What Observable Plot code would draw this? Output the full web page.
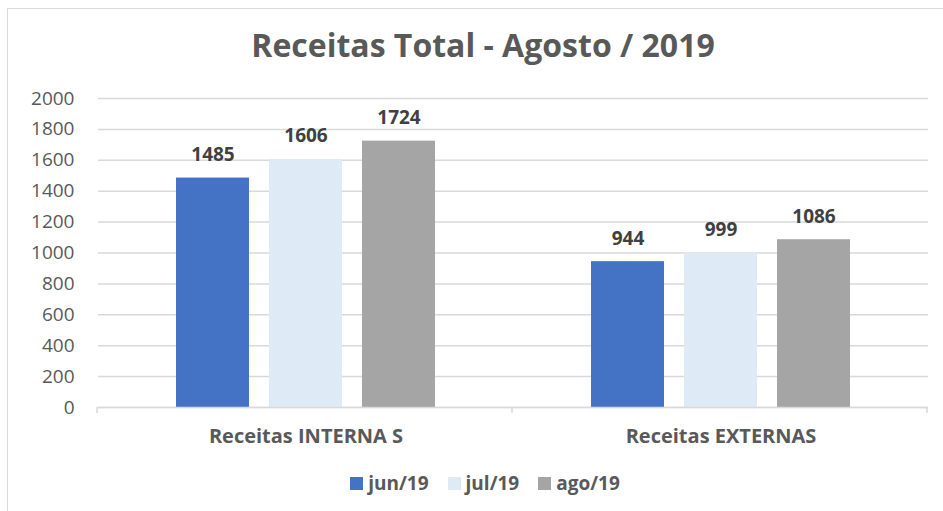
<!DOCTYPE html>
<html>
<head>
<meta charset="utf-8">
<script src="https://cdn.jsdelivr.net/npm/d3@7"></script>
<script src="https://cdn.jsdelivr.net/npm/@observablehq/plot@0.6"></script>
<style>
  html, body { margin: 0; padding: 0; background: #fff; }
  #wrap { position: relative; width: 943px; height: 511px; overflow: hidden; font-family: "Open Sans", "Noto Sans", sans-serif; }
  #frame { position: absolute; left: 7px; top: 8px; width: 950px; height: 520px; border: 1.5px solid #d9d9d9; box-sizing: border-box; }
  #title { position: absolute; left: 0; width: 966px; top: 23px; text-align: center; font-size: 32px; font-weight: 700; color: #595959; }
  #chart { position: absolute; left: 0; top: 70px; }
  #legend { position: absolute; left: 0; width: 970px; top: 470px; display: flex; justify-content: center; gap: 19px; font-size: 19px; font-weight: 700; color: #595959; }
  #legend .item { display: flex; align-items: center; gap: 5px; }
  #legend .sw { width: 13px; height: 13px; display: inline-block; }
</style>
</head>
<body>
<div id="wrap">
  <div id="frame"></div>
  <div id="title">Receitas Total - Agosto / 2019</div>
  <div id="chart"></div>
  <div id="legend"></div>
</div>
<script>
const categories = ["Receitas INTERNA S", "Receitas EXTERNAS"];
const months = ["jun/19", "jul/19", "ago/19"];
const colors = ["#4472c4", "#deebf7", "#a5a5a5"];
const internas = [1485, 1606, 1724];
const externas = [944, 999, 1086];
const yTicks = [0, 200, 400, 600, 800, 1000, 1200, 1400, 1600, 1800, 2000];

const seriesByCategory = [internas, externas];
const data = [];
categories.forEach((c, ci) => months.forEach((m, mi) => data.push({category: c, month: m, value: seriesByCategory[ci][mi]})));

const chart = Plot.plot({
  width: 943,
  height: 380,
  marginLeft: 97,
  marginRight: 15,
  marginTop: 28,
  marginBottom: 43,
  style: {fontFamily: "'Open Sans', 'Noto Sans', sans-serif", background: "transparent", overflow: "visible"},
  fx: {domain: categories, padding: 0, label: null},
  x: {domain: months, paddingInner: 0.22, paddingOuter: 0.84, axis: null},
  y: {domain: [0, 2000], label: null},
  color: {domain: months, range: colors},
  marks: [
    Plot.gridY(yTicks, {stroke: "#d9d9d9", strokeOpacity: 1, strokeWidth: 1.5}),
    Plot.axisY(yTicks, {tickSize: 0, tickPadding: 24, fontSize: 19, fill: "#595959", label: null, tickFormat: d => String(d)}),
    Plot.axisFx({anchor: "bottom", tickSize: 0, tickPadding: 21, fontSize: 20, fontWeight: 700, fill: "#595959", label: null}),
    Plot.barY(data, {fx: "category", x: "month", y: "value", fill: "month"}),
    Plot.ruleY([0], {stroke: "#d9d9d9", strokeWidth: 1.5}),
    Plot.text(data, {fx: "category", x: "month", y: "value", text: d => String(d.value), lineAnchor: "bottom", dy: -17, fontSize: 19, fontWeight: 700, fill: "#404040"})
  ]
});

// boundary ticks on the category axis, derived from the fx and y scales
const fxs = chart.scale("fx");
const ys = chart.scale("y");
const svg = d3.select(chart.tagName === "svg" ? chart : chart.querySelector("svg"));
const y0 = ys.apply(0);
for (let i = 0; i <= categories.length; i++) {
  const x = fxs.range[0] + i * fxs.step;
  svg.append("line").attr("x1", x).attr("x2", x).attr("y1", y0).attr("y2", y0 + 6)
    .attr("stroke", "#d9d9d9").attr("stroke-width", 1.5);
}
document.getElementById("chart").appendChild(chart);

const legend = d3.select("#legend");
months.forEach((m, i) => {
  const it = legend.append("div").attr("class", "item");
  it.append("span").attr("class", "sw").style("background", colors[i]);
  it.append("span").text(m);
});
</script>
</body>
</html>
